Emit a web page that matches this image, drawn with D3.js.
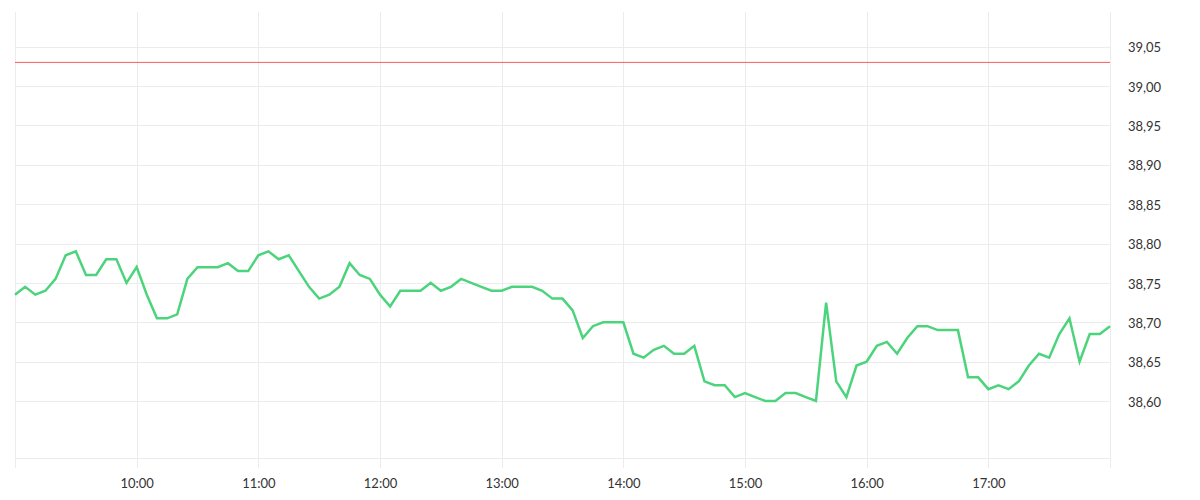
<!DOCTYPE html>
<html><head><meta charset="utf-8">
<script src="https://cdn.jsdelivr.net/npm/d3@7"></script>
<style>body{margin:0;background:#fff}svg{display:block}</style>
</head><body><svg id="c" width="1200" height="500"></svg>
<script>
const startTime = "09:00";
const stepMinutes = 5;
const prices = [38.735,38.745,38.735,38.74,38.755,38.785,38.79,38.76,38.76,38.78,38.78,38.75,
38.77,38.735,38.705,38.705,38.71,38.755,38.77,38.77,38.77,38.775,38.765,38.765,
38.785,38.79,38.78,38.785,38.765,38.745,38.73,38.735,38.745,38.775,38.76,38.755,
38.735,38.72,38.74,38.74,38.74,38.75,38.74,38.745,38.755,38.75,38.745,38.74,
38.74,38.745,38.745,38.745,38.74,38.73,38.73,38.715,38.68,38.695,38.70,38.70,
38.70,38.66,38.655,38.665,38.67,38.66,38.66,38.67,38.625,38.62,38.62,38.605,
38.61,38.605,38.60,38.60,38.61,38.61,38.605,38.60,38.725,38.625,38.605,38.645,
38.65,38.67,38.675,38.66,38.68,38.695,38.695,38.69,38.69,38.69,38.63,38.63,
38.615,38.62,38.615,38.625,38.645,38.66,38.655,38.685,38.705,38.65,38.685,38.685,38.695];
const refLine = 39.03;
const yTicks = [38.60,38.65,38.70,38.75,38.80,38.85,38.90,38.95,39.00,39.05];
const xTickLabels = ["10:00","11:00","12:00","13:00","14:00","15:00","16:00","17:00"];

const parse = d3.timeParse("%H:%M");
const t0 = parse(startTime);
const data = prices.map((v,i)=>({t:new Date(t0.getTime()+i*stepMinutes*60000), v}));
const xTicks = xTickLabels.map(parse);

const svg = d3.select("#c");
const L=15, R=1110, T=12, B=458;
const x = d3.scaleTime().domain([parse("09:00"), parse("18:00")]).range([L,R]);
const y = d3.scaleLinear().domain([38.5276, 39.094]).range([B,T]);

const grid = svg.append("g").attr("stroke","#ececec").attr("stroke-width",1).attr("shape-rendering","crispEdges");
yTicks.forEach(v=>grid.append("line").attr("x1",L).attr("x2",R).attr("y1",Math.round(y(v))+0.5).attr("y2",Math.round(y(v))+0.5));
grid.append("line").attr("x1",L).attr("x2",R).attr("y1",B+0.5).attr("y2",B+0.5);
[parse("09:00"),...xTicks].forEach(t=>grid.append("line").attr("x1",Math.round(x(t))+0.5).attr("x2",Math.round(x(t))+0.5).attr("y1",T).attr("y2",468));
grid.append("line").attr("x1",R+0.5).attr("x2",R+0.5).attr("y1",T).attr("y2",468);

// axes (labels only)
const xAxis = d3.axisBottom(x).tickValues(xTicks).tickFormat(d3.timeFormat("%H:%M")).tickSize(0).tickPadding(0);
const gx = svg.append("g").attr("transform","translate(0,483)").call(xAxis);
gx.select(".domain").remove();
gx.selectAll("text").attr("dy","0.35em").attr("font-family","Lato, sans-serif").attr("font-size",13).attr("fill","#333");

const yAxis = d3.axisRight(y).tickValues(yTicks).tickFormat(d=>d3.format(".2f")(d).replace(".",",")).tickSize(0).tickPadding(0);
const gy = svg.append("g").attr("transform","translate(1128,1)").call(yAxis);
gy.select(".domain").remove();
gy.selectAll("text").attr("font-family","Lato, sans-serif").attr("font-size",13).attr("fill","#333");

svg.append("line").attr("x1",L).attr("x2",R).attr("y1",y(refLine)).attr("y2",y(refLine))
  .attr("stroke","#ff5a5f").attr("stroke-width",1);

svg.append("path").datum(data)
  .attr("d", d3.line().x(d=>x(d.t)).y(d=>y(d.v)))
  .attr("fill","none").attr("stroke","#4cd47c").attr("stroke-width",2.5).attr("stroke-linejoin","miter");
</script></body></html>
